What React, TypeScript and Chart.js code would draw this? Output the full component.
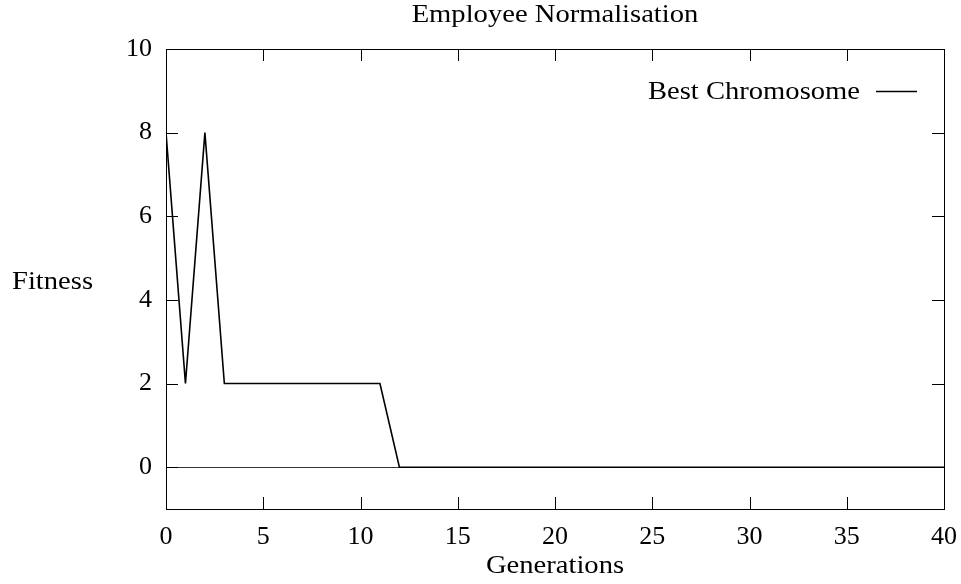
import React, { useEffect, useRef } from "react";
import { Chart, registerables } from "chart.js";

Chart.register(...registerables);

const generations = [0, 1, 2, 3, 4, 5, 6, 7, 8, 9, 10, 11, 12, 13, 14, 15, 16, 17, 18, 19, 20, 21, 22, 23, 24, 25, 26, 27, 28, 29, 30, 31, 32, 33, 34, 35, 36, 37, 38, 39, 40];
const bestFitness = [8, 2, 8, 2, 2, 2, 2, 2, 2, 2, 2, 2, 0, 0, 0, 0, 0, 0, 0, 0, 0, 0, 0, 0, 0, 0, 0, 0, 0, 0, 0, 0, 0, 0, 0, 0, 0, 0, 0, 0, 0];
const xTicks = [0, 5, 10, 15, 20, 25, 30, 35, 40];
const yTicks = [0, 2, 4, 6, 8, 10];
const titleText = "Employee Normalisation";
const xTitle = "Generations";
const yTitle = "Fitness";
const seriesLabel = "Best Chromosome";

const FONT_FAMILY = "'Liberation Serif', 'DejaVu Serif', serif";
const FONT_SIZE = 26;
const STRETCH = 1.1;

function drawStretched(ctx: any, text: string, x: number, y: number, align: "left" | "center" | "right") {
  const w = ctx.measureText(text).width * STRETCH;
  let x0 = x;
  if (align === "center") x0 = x - w / 2;
  else if (align === "right") x0 = x - w;
  ctx.save();
  ctx.translate(x0, y);
  ctx.scale(STRETCH, 1);
  ctx.textAlign = "left";
  ctx.fillText(text, 0, 0);
  ctx.restore();
}

const framePlugin = {
  id: "gnuplotFrame",
  beforeDatasetsDraw(chart: any) {
    const { ctx, chartArea, scales } = chart;
    const { left, right } = chartArea;
    const y = scales.y;
    ctx.save();
    ctx.strokeStyle = "#333";
    ctx.lineWidth = 1;
    const y0 = Math.round(y.getPixelForValue(0)) + 0.5;
    ctx.beginPath();
    ctx.moveTo(left, y0);
    ctx.lineTo(right, y0);
    ctx.stroke();
    ctx.restore();
  },
  afterDraw(chart: any) {
    const { ctx, chartArea, scales } = chart;
    const { left, right, top, bottom } = chartArea;
    const x = scales.x;
    const y = scales.y;
    const tl = 12;
    ctx.save();
    ctx.strokeStyle = "#000";
    ctx.lineWidth = 1;
    ctx.strokeRect(Math.round(left) + 0.5, Math.round(top) + 0.5, Math.round(right - left), Math.round(bottom - top));
    ctx.beginPath();
    xTicks.forEach((v) => {
      const px = Math.round(x.getPixelForValue(v)) + 0.5;
      ctx.moveTo(px, bottom);
      ctx.lineTo(px, bottom - tl);
      ctx.moveTo(px, top);
      ctx.lineTo(px, top + tl);
    });
    yTicks.forEach((v) => {
      const py = Math.round(y.getPixelForValue(v)) + 0.5;
      ctx.moveTo(left, py);
      ctx.lineTo(left + tl, py);
      ctx.moveTo(right, py);
      ctx.lineTo(right - tl, py);
    });
    ctx.stroke();

    ctx.fillStyle = "#000";
    ctx.font = `${FONT_SIZE}px ${FONT_FAMILY}`;
    ctx.textBaseline = "middle";
    const cx = (left + right) / 2;
    drawStretched(ctx, titleText, cx, 15, "center");
    drawStretched(ctx, xTitle, cx, 566, "center");
    drawStretched(ctx, yTitle, 12, (top + bottom) / 2 + 3, "left");

    const ly = 91;
    drawStretched(ctx, seriesLabel, 860, ly + 1, "right");
    ctx.beginPath();
    ctx.lineWidth = 1.5;
    ctx.moveTo(876, ly + 0.5);
    ctx.lineTo(917, ly + 0.5);
    ctx.stroke();
    ctx.restore();
  },
};

export default function App() {
  const canvasRef = useRef<HTMLCanvasElement | null>(null);

  useEffect(() => {
    if (!canvasRef.current) return;
    const chart = new Chart(canvasRef.current, {
      type: "line",
      data: {
        datasets: [
          {
            label: seriesLabel,
            data: generations.map((g, i) => ({ x: g, y: bestFitness[i] })),
            borderColor: "#000",
            borderWidth: 1.6,
            pointRadius: 0,
            tension: 0,
            fill: false,
          },
        ],
      },
      options: {
        animation: false,
        responsive: true,
        maintainAspectRatio: false,
        layout: { padding: { top: 49, right: 17, left: 0, bottom: 0 } },
        plugins: {
          legend: { display: false },
          title: { display: false },
          tooltip: { enabled: false },
        },
        scales: {
          x: {
            type: "linear",
            min: 0,
            max: 40,
            border: { display: false },
            grid: { display: false, drawTicks: false },
            afterBuildTicks: (s: any) => {
              s.ticks = xTicks.map((v) => ({ value: v }));
            },
            afterFit: (s: any) => {
              s.height = 75;
              s.paddingLeft = 0;
              s.paddingRight = 0;
            },
            ticks: {
              color: "#000",
              padding: 13,
              maxRotation: 0,
              autoSkip: false,
              font: { family: FONT_FAMILY, size: FONT_SIZE },
            },
          },
          y: {
            type: "linear",
            min: -1,
            max: 10,
            border: { display: false },
            grid: { display: false, drawTicks: false },
            afterBuildTicks: (s: any) => {
              s.ticks = yTicks.map((v) => ({ value: v }));
            },
            afterFit: (s: any) => {
              s.width = 166;
              s.paddingTop = 0;
              s.paddingBottom = 0;
            },
            ticks: {
              color: "#000",
              padding: 14,
              autoSkip: false,
              font: { family: FONT_FAMILY, size: FONT_SIZE },
            },
          },
        },
      },
      plugins: [framePlugin],
    });
    return () => chart.destroy();
  }, []);

  return (
    <div style={{ position: "fixed", left: 0, top: 0, width: 961, height: 584, background: "#fff" }}>
      <canvas ref={canvasRef} />
    </div>
  );
}
